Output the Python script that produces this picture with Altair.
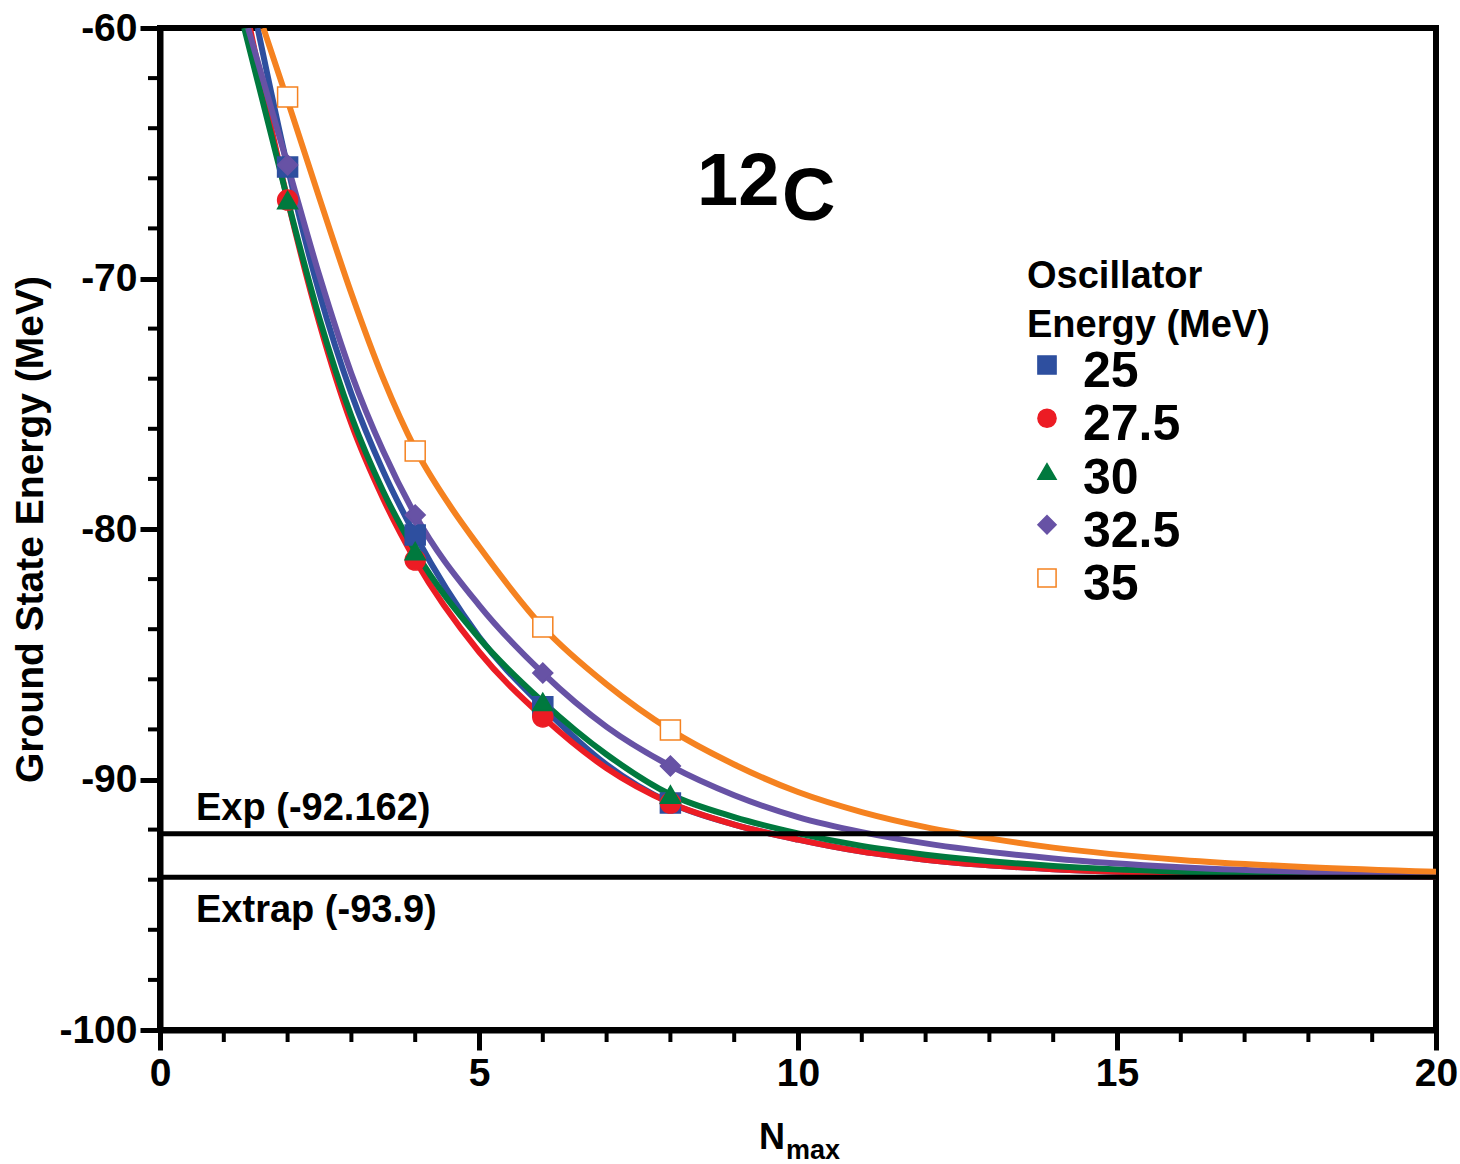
import altair as alt
import pandas as pd

FONT = "Liberation Sans"

# ---- data ----
energies = ["25", "27.5", "30", "32.5", "35"]
colors = ["#2E4F9F", "#EC1C24", "#00793E", "#6752A5", "#F58220"]
fills = ["#2E4F9F", "#EC1C24", "#00793E", "#6752A5", "#FFFFFF"]
shapes = ["square", "circle", "triangle-up", "diamond", "square"]

n_points = [2, 4, 6, 8]
pts_25 = [-65.55, -80.24, -87.10, -90.94]
pts_275 = [-66.87, -81.24, -87.50, -90.94]
pts_30 = [-66.87, -80.88, -86.90, -90.60]
pts_325 = [-65.47, -79.44, -85.75, -89.46]
pts_35 = [-62.75, -76.89, -83.91, -88.02]

# fitted curves
cur_n_25 = [1.53, 2, 2.5, 3, 3.5, 4, 5, 6, 7, 8, 9, 10, 11, 12, 14, 16, 18, 20]
cur_y_25 = [-60, -65.55, -70.6, -74.6, -77.7, -80.24, -84.3, -87.1, -89.41, -90.94,
            -91.8, -92.4, -92.88, -93.2, -93.58, -93.75, -93.83, -93.87]
cur_n_275 = [1.41, 2, 2.5, 3, 3.5, 4, 5, 6, 7, 8, 9, 10, 11, 12, 14, 16, 18, 20]
cur_y_275 = [-60, -66.87, -71.8, -75.8, -78.8, -81.24, -84.9, -87.5, -89.55, -90.94,
             -91.8, -92.4, -92.88, -93.2, -93.58, -93.75, -93.83, -93.87]
cur_n_30 = [1.32, 2, 2.5, 3, 3.5, 4, 5, 6, 7, 8, 9, 10, 11, 12, 14, 16, 18, 20]
cur_y_30 = [-60, -66.87, -71.6, -75.5, -78.5, -80.88, -84.35, -86.9, -89.0, -90.6,
            -91.5, -92.15, -92.65, -93.0, -93.45, -93.68, -93.79, -93.85]
cur_n_325 = [1.38, 2, 2.5, 3, 3.5, 4, 5, 6, 7, 8, 9, 10, 11, 12, 14, 16, 18, 20]
cur_y_325 = [-60, -65.47, -69.9, -73.8, -76.9, -79.44, -83.04, -85.75, -87.9, -89.46,
             -90.63, -91.5, -92.1, -92.55, -93.15, -93.5, -93.69, -93.78]
cur_n_35 = [1.62, 2, 2.5, 3, 3.5, 4, 4.5, 5, 6, 7, 8, 9, 10, 11, 12, 13, 14, 16, 18, 20]
cur_y_35 = [-60, -62.9, -66.8, -70.6, -74.0, -76.8, -78.9, -80.7, -83.91, -86.2, -88.02,
            -89.4, -90.5, -91.3, -91.9, -92.35, -92.72, -93.21, -93.5, -93.68]

exp_value = -92.162
extrap_value = -93.9
ref_labels = ["Exp (-92.162)", "Extrap (-93.9)"]
legend_title = ["Oscillator", "Energy (MeV)"]

x_major = [0, 5, 10, 15, 20]
x_minor = [v for v in range(1, 20) if v % 5 != 0]
y_major = [-100, -90, -80, -70, -60]
y_minor = [v for v in range(-98, -60, 2) if v % 10 != 0]

# ---- layout ----
W, H = 1276, 1002
X0, X1, Y0, Y1 = 0.0, 20.0, -100.0, -60.0


def dx(px):  # view pixel -> x data units (for annotation placement)
    return X0 + px * (X1 - X0) / W


def dy(py):  # view pixel -> y data units (for annotation placement)
    return Y1 - py * (Y1 - Y0) / H


# ---- tables ----
pts_sets = [pts_25, pts_275, pts_30, pts_325, pts_35]
cur_sets = [(cur_n_25, cur_y_25), (cur_n_275, cur_y_275), (cur_n_30, cur_y_30),
            (cur_n_325, cur_y_325), (cur_n_35, cur_y_35)]

pts_df = pd.DataFrame([
    {"E": e, "order": i, "N": n, "y": y}
    for i, (e, ys) in enumerate(zip(energies, pts_sets))
    for n, y in zip(n_points, ys)
])
cur_df = pd.DataFrame([
    {"E": e, "order": i, "N": n, "y": y}
    for i, (e, (ns, ys)) in enumerate(zip(energies, cur_sets))
    for n, y in zip(ns, ys)
])
ref_df = pd.DataFrame({"y": [exp_value, extrap_value], "label": ref_labels,
                       "ty": [dy(792), dy(894)], "tx": [dx(36), dx(36)]})

row_step = 53.25
leg_df = pd.DataFrame({
    "E": energies,
    "sx": [dx(887)] * 5,
    "sy": [dy(337 + i * row_step) for i in range(5)],
    "lx": [dx(923)] * 5,
    "ly": [dy(359 + i * row_step) for i in range(5)],
})
leg_title_df = pd.DataFrame({"t": legend_title, "tx": [dx(867)] * 2,
                             "ty": [dy(260), dy(309)]})

xs = alt.Scale(domain=[X0, X1], nice=False, zero=False)
ys = alt.Scale(domain=[Y0, Y1], nice=False, zero=False)

lab = "'' + datum.value"

x_axis = alt.Axis(values=x_major, tickSize=20, tickWidth=5, tickColor="black",
                  domain=True, domainWidth=6, domainColor="black",
                  labelFont=FONT, labelFontSize=39, labelFontWeight="bold",
                  labelColor="black", labelPadding=4, labelExpr=lab, labelFlush=False,
                  labelOverlap=False, grid=False, title=None, orient="bottom")
y_axis = alt.Axis(values=y_major, tickSize=20, tickWidth=5, tickColor="black",
                  domain=True, domainWidth=6, domainColor="black",
                  labelFont=FONT, labelFontSize=39, labelFontWeight="bold",
                  labelColor="black", labelPadding=3, labelExpr=lab, labelFlush=False,
                  labelOverlap=False, grid=False,
                  title="Ground State Energy (MeV)", titleFont=FONT,
                  titleFontSize=39, titleFontWeight="bold", titleColor="black",
                  titlePadding=8, orient="left")


def X(field):
    return alt.X(field, scale=xs, axis=x_axis)


def Y(field):
    return alt.Y(field, scale=ys, axis=y_axis)


stroke_enc = alt.Stroke("E:N", scale=alt.Scale(domain=energies, range=colors), legend=None)
fill_enc = alt.Fill("E:N", scale=alt.Scale(domain=energies, range=fills), legend=None)
shape_enc = alt.Shape("E:N", scale=alt.Scale(domain=energies, range=shapes), legend=None)

curves = alt.Chart(cur_df).mark_line(strokeWidth=6, clip=True, interpolate="monotone").encode(
    x=X("N:Q"),
    y=Y("y:Q"),
    color=alt.Color("E:N", scale=alt.Scale(domain=energies, range=colors), legend=None),
    detail="E:N",
    order=alt.Order("N:Q"),
)

minor_x = alt.Chart(pd.DataFrame({"v": x_minor})).mark_rule(strokeWidth=4, color="black").encode(
    x=X("v:Q"), y=alt.value(H), y2=alt.value(H + 12))
minor_y = alt.Chart(pd.DataFrame({"v": y_minor})).mark_rule(strokeWidth=4, color="black").encode(
    y=Y("v:Q"), x=alt.value(0), x2=alt.value(-12))

points = alt.Chart(pts_df).mark_point(filled=True, opacity=1, fillOpacity=1,
                                      strokeWidth=1.5, size=400).encode(
    x=X("N:Q"), y=Y("y:Q"),
    stroke=stroke_enc, fill=fill_enc, shape=shape_enc,
    order=alt.Order("order:Q"),
)

rules = alt.Chart(ref_df).mark_rule(strokeWidth=5, color="black").encode(y=Y("y:Q"))
ref_text = alt.Chart(ref_df).mark_text(font=FONT, fontSize=38, fontWeight="bold",
                                       align="left", baseline="alphabetic",
                                       color="black").encode(
    x=X("tx:Q"), y=Y("ty:Q"), text="label:N")

leg_sym = alt.Chart(leg_df).mark_point(filled=True, opacity=1, fillOpacity=1,
                                       strokeWidth=1.5, size=330).encode(
    x=X("sx:Q"), y=Y("sy:Q"), stroke=stroke_enc, fill=fill_enc, shape=shape_enc)
leg_lab = alt.Chart(leg_df).mark_text(font=FONT, fontSize=50, fontWeight="bold",
                                      align="left", baseline="alphabetic",
                                      color="black").encode(
    x=X("lx:Q"), y=Y("ly:Q"), text="E:N")
leg_title = alt.Chart(leg_title_df).mark_text(font=FONT, fontSize=38, fontWeight="bold",
                                              align="left", baseline="alphabetic",
                                              color="black").encode(
    x=X("tx:Q"), y=Y("ty:Q"), text="t:N")

ann = pd.DataFrame({"a": [0]})


def label(txt, size, px, py):
    return alt.Chart(ann).mark_text(text=txt, font=FONT, fontSize=size, fontWeight="bold",
                                    align="left", baseline="alphabetic",
                                    color="black").encode(x=alt.value(px), y=alt.value(py))


t12 = label("12", 74, 537, 177)
tC = label("C", 74, 622, 192)
tN = label("N", 36, 599, 1121)
tmax = label("max", 27, 626, 1131)

chart = alt.layer(
    curves, minor_x, minor_y, rules, points, ref_text,
    leg_sym, leg_lab, leg_title, t12, tC, tN, tmax
).properties(
    width=W, height=H,
    autosize=alt.AutoSizeParams(type="none"),
    padding={"left": 160, "top": 28, "right": 24, "bottom": 134},
    background="white",
).configure_view(stroke="black", strokeWidth=6)

chart.save("out.html", embed_options={"renderer": "svg", "actions": False})
